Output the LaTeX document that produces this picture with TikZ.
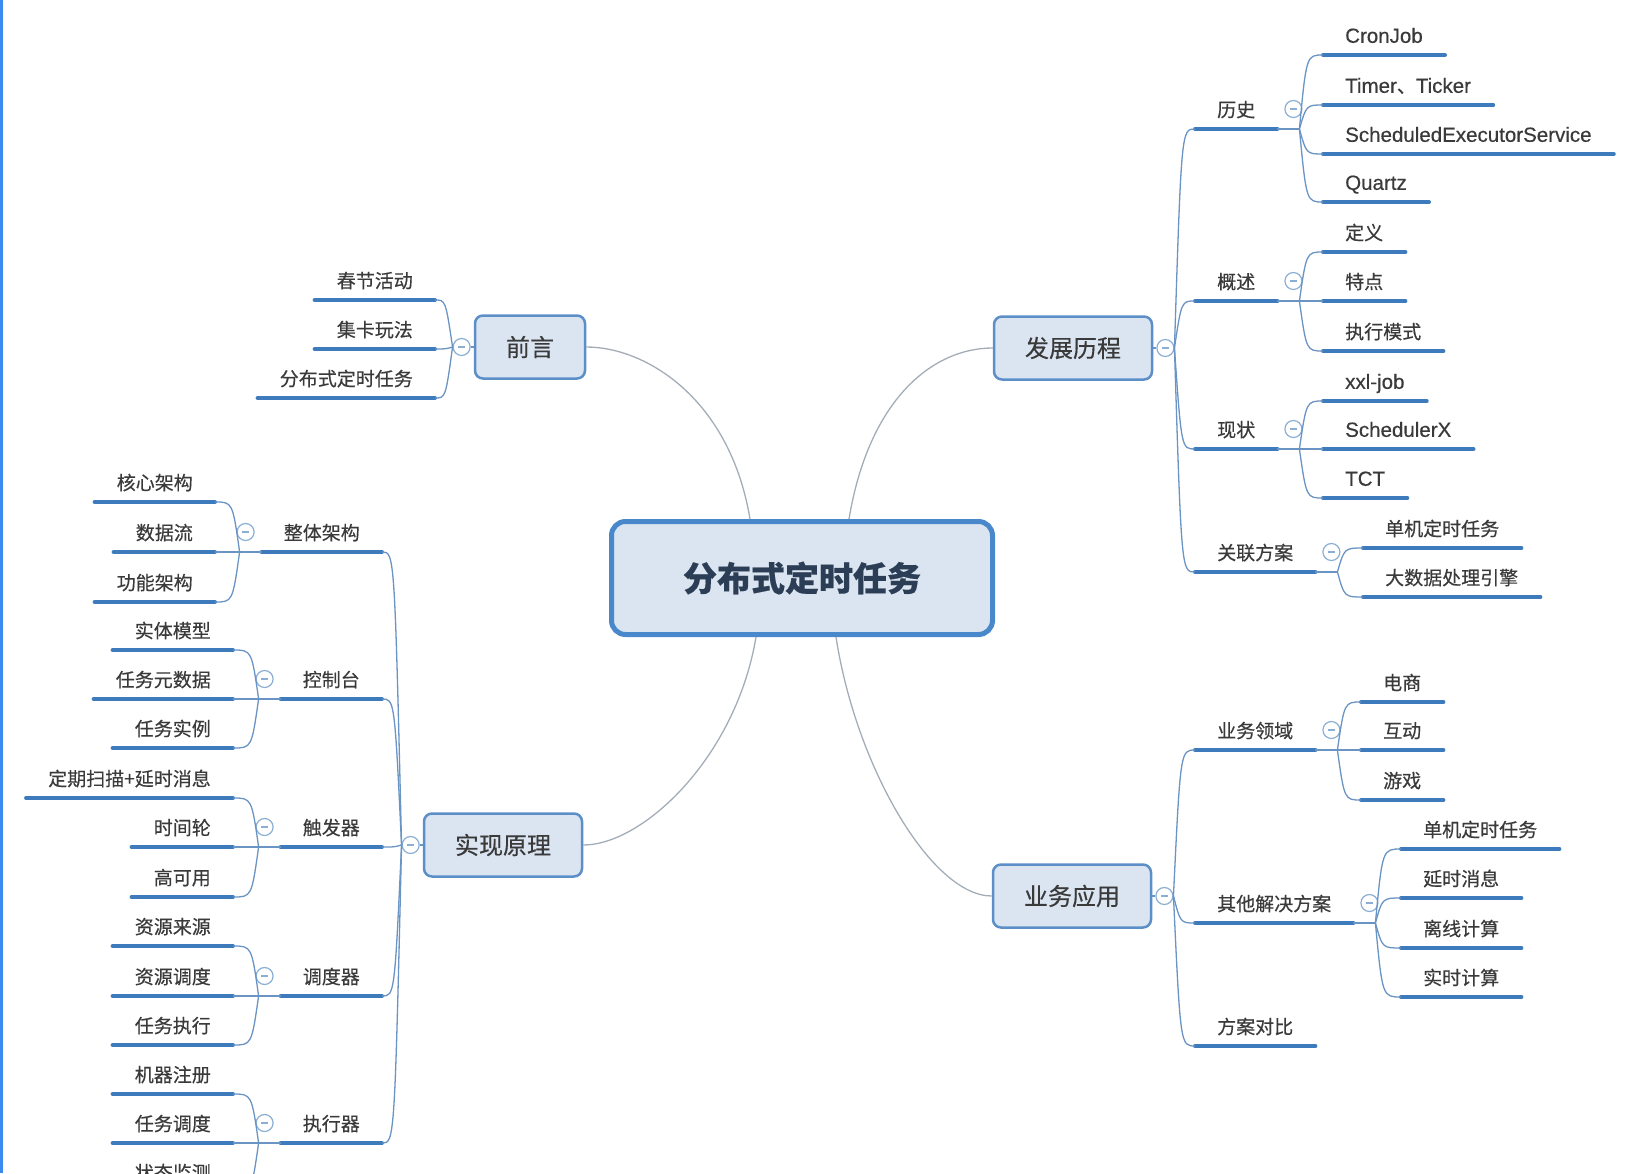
\documentclass[tikz,border=0pt]{standalone}
\usepackage{fontspec}
\setmainfont{Noto Sans CJK SC}[FakeBold=0.4]
\newfontfamily\latin{Liberation Sans}[Scale=1.08, FakeBold=0.4]
\usepackage{tikz}
\usetikzlibrary{positioning,calc}

\definecolor{txt}{HTML}{3A3A3A}
\definecolor{roottxt}{HTML}{2C3E55}
\definecolor{boxfill}{HTML}{DBE5F1}
\definecolor{boxline}{HTML}{5C8FC8}
\definecolor{rootline}{HTML}{4A88CC}
\definecolor{ulc}{HTML}{3E7BBD}
\definecolor{linkc}{HTML}{6A94C3}
\definecolor{trunkc}{HTML}{A3ADB8}
\definecolor{foldc}{HTML}{8AAED4}
\definecolor{edgebar}{HTML}{3B8AF0}

\begin{document}
\begin{tikzpicture}[
    x=1pt, y=-1pt,
    root/.style={draw=rootline, fill=boxfill, line width=5pt, rounded corners=14pt, minimum width=381pt, minimum height=113pt, text=roottxt, font=\fontsize{34pt}{34pt}\selectfont\bfseries},
    topic/.style={draw=boxline, fill=boxfill, line width=2.5pt, rounded corners=8pt, inner xsep=31pt, minimum height=63pt, text=txt, font=\fontsize{24pt}{24pt}\selectfont},
    leaf/.style={inner xsep=22pt, inner ysep=8pt, text height=15pt, text depth=4pt, text=txt, font=\fontsize{19pt}{19pt}\selectfont,
        append after command={(\tikzlastnode.south west) edge[uline] (\tikzlastnode.south east)}},
    fold/.style={circle, draw=foldc, line width=1.2pt, fill=white, minimum size=17pt, inner sep=0pt,
        path picture={\draw[foldc, line width=1.2pt] ([xshift=-3.5pt]path picture bounding box.center) -- ([xshift=3.5pt]path picture bounding box.center);}},
    uline/.style={draw=ulc, line width=4pt, line cap=round},
    link/.style={draw=linkc, line width=1.3pt},
    trunk/.style={draw=trunkc, line width=1.3pt},
    brR/.style={to path={.. controls ($(\tikztostart |- \tikztotarget)+(7,0)$) .. (\tikztotarget)}},
    brL/.style={to path={.. controls ($(\tikztostart |- \tikztotarget)+(-7,0)$) .. (\tikztotarget)}},
]
\useasboundingbox (0,0) rectangle (1628,1173);
\fill[edgebar] (0,0) rectangle (3,1173);

% Root
\node[root] (root) at (802,578) {分布式定时任务};

% 前言
\node[topic] (qianyan) at (530,347) {前言};
\node[fold, left=3pt of qianyan] (qyfold) {};
\node[leaf, anchor=south east] (chunjie) at (435,300) {春节活动};
\node[leaf, anchor=south east] (jika) at (435,349) {集卡玩法};
\node[leaf, anchor=south east] (fbsrw) at (435,398) {分布式定时任务};
\draw[link] (qianyan) -- (qyfold);
\draw[link] (qyfold.west) edge[brL] (chunjie.south east) edge[brL] (jika.south east) edge[brL] (fbsrw.south east);

% 发展历程
\node[topic] (fazhan) at (1073,348) {发展历程};
\node[fold, right=3pt of fazhan] (fzfold) {};
\node[leaf, anchor=south west] (lishi) at (1195,129) {历史};
\node[leaf, anchor=south west] (gaishu) at (1195,301) {概述};
\node[leaf, anchor=south west] (xianzh) at (1195,449) {现状};
\node[leaf, anchor=south west] (guanl) at (1195,572) {关联方案};
\draw[link] (fazhan) -- (fzfold);
\draw[link] (fzfold.east) edge[brR] (lishi.south west) edge[brR] (gaishu.south west) edge[brR] (xianzh.south west) edge[brR] (guanl.south west);

\node[leaf, anchor=south west] (cronjob) at (1323,55) {\latin CronJob};
\node[leaf, anchor=south west] (timer) at (1323,105) {{\latin Timer}、{\latin Ticker}};
\node[leaf, anchor=south west] (sched) at (1323,154) {\latin ScheduledExecutorService};
\node[leaf, anchor=south west] (quartz) at (1323,202) {\latin Quartz};
\node[fold] (lsfold) at ($(lishi.south east)+(16,-20)$) {};
\coordinate (lsj) at ($(lishi.south east)+(22,0)$);
\draw[link] (lishi.south east) -- (lsj) edge[brR] (cronjob.south west) edge[brR] (timer.south west) edge[brR] (sched.south west) edge[brR] (quartz.south west);

\node[leaf, anchor=south west] (dingyi) at (1323,252) {定义};
\node[leaf, anchor=south west] (tedian) at (1323,301) {特点};
\node[leaf, anchor=south west] (zxms) at (1323,351) {执行模式};
\node[fold] (gsfold) at ($(gaishu.south east)+(16,-20)$) {};
\coordinate (gsj) at ($(gaishu.south east)+(22,0)$);
\draw[link] (gaishu.south east) -- (gsj) edge[brR] (dingyi.south west) edge[brR] (tedian.south west) edge[brR] (zxms.south west);

\node[leaf, anchor=south west] (xxljob) at (1323,401) {\latin xxl-job};
\node[leaf, anchor=south west] (schedx) at (1323,449) {\latin SchedulerX};
\node[leaf, anchor=south west] (tct) at (1323,498) {\latin TCT};
\node[fold] (xzfold) at ($(xianzh.south east)+(16,-20)$) {};
\coordinate (xzj) at ($(xianzh.south east)+(22,0)$);
\draw[link] (xianzh.south east) -- (xzj) edge[brR] (xxljob.south west) edge[brR] (schedx.south west) edge[brR] (tct.south west);

\node[leaf, anchor=south west] (danji) at (1363,548) {单机定时任务};
\node[leaf, anchor=south west] (dsj) at (1363,597) {大数据处理引擎};
\node[fold] (glfold) at ($(guanl.south east)+(16,-20)$) {};
\coordinate (glj) at ($(guanl.south east)+(22,0)$);
\draw[link] (guanl.south east) -- (glj) edge[brR] (danji.south west) edge[brR] (dsj.south west);

% 实现原理
\node[topic] (shixian) at (503,845) {实现原理};
\node[fold, left=3pt of shixian] (sxfold) {};
\node[leaf, anchor=south east] (ztjg) at (382,552) {整体架构};
\node[leaf, anchor=south east] (kzt) at (382,699) {控制台};
\node[leaf, anchor=south east] (cfq) at (382,847) {触发器};
\node[leaf, anchor=south east] (ddq) at (382,996) {调度器};
\node[leaf, anchor=south east] (zxq) at (382,1143) {执行器};
\draw[link] (shixian) -- (sxfold);
\draw[link] (sxfold.west) edge[brL] (ztjg.south east) edge[brL] (kzt.south east) edge[brL] (cfq.south east) edge[brL] (ddq.south east) edge[brL] (zxq.south east);

\node[leaf, anchor=south east] (hxjg) at (215,502) {核心架构};
\node[leaf, anchor=south east] (sjl) at (215,552) {数据流};
\node[leaf, anchor=south east] (gnjg) at (215,602) {功能架构};
\node[fold] (ztfold) at ($(ztjg.south west)+(-16,-20)$) {};
\coordinate (ztj) at ($(ztjg.south west)+(-22,0)$);
\draw[link] (ztjg.south west) -- (ztj) edge[brL] (hxjg.south east) edge[brL] (sjl.south east) edge[brL] (gnjg.south east);

\node[leaf, anchor=south east] (stmx) at (233,650) {实体模型};
\node[leaf, anchor=south east] (rwys) at (233,699) {任务元数据};
\node[leaf, anchor=south east] (rwsl) at (233,748) {任务实例};
\node[fold] (kzfold) at ($(kzt.south west)+(-16,-20)$) {};
\coordinate (kzj) at ($(kzt.south west)+(-22,0)$);
\draw[link] (kzt.south west) -- (kzj) edge[brL] (stmx.south east) edge[brL] (rwys.south east) edge[brL] (rwsl.south east);

\node[leaf, anchor=south east] (dqsm) at (233,798) {定期扫描+延时消息};
\node[leaf, anchor=south east] (sjlun) at (233,847) {时间轮};
\node[leaf, anchor=south east] (gky) at (233,897) {高可用};
\node[fold] (cffold) at ($(cfq.south west)+(-16,-20)$) {};
\coordinate (cfj) at ($(cfq.south west)+(-22,0)$);
\draw[link] (cfq.south west) -- (cfj) edge[brL] (dqsm.south east) edge[brL] (sjlun.south east) edge[brL] (gky.south east);

\node[leaf, anchor=south east] (zyly) at (233,946) {资源来源};
\node[leaf, anchor=south east] (zydd) at (233,996) {资源调度};
\node[leaf, anchor=south east] (rwzx) at (233,1045) {任务执行};
\node[fold] (ddfold) at ($(ddq.south west)+(-16,-20)$) {};
\coordinate (ddj) at ($(ddq.south west)+(-22,0)$);
\draw[link] (ddq.south west) -- (ddj) edge[brL] (zyly.south east) edge[brL] (zydd.south east) edge[brL] (rwzx.south east);

\node[leaf, anchor=south east] (jqzc) at (233,1094) {机器注册};
\node[leaf, anchor=south east] (rwdd) at (233,1143) {任务调度};
\node[leaf, anchor=south east] (ztjc) at (233,1192) {状态监测};
\node[fold] (zxfold) at ($(zxq.south west)+(-16,-20)$) {};
\coordinate (zxj) at ($(zxq.south west)+(-22,0)$);
\draw[link] (zxq.south west) -- (zxj) edge[brL] (jqzc.south east) edge[brL] (rwdd.south east) edge[brL] (ztjc.south east);

% 业务应用
\node[topic] (yewu) at (1072,896) {业务应用};
\node[fold, right=3pt of yewu] (ywfold) {};
\node[leaf, anchor=south west] (ywly) at (1195,750) {业务领域};
\node[leaf, anchor=south west] (qtfa) at (1195,923) {其他解决方案};
\node[leaf, anchor=south west] (fadb) at (1195,1046) {方案对比};
\draw[link] (yewu) -- (ywfold);
\draw[link] (ywfold.east) edge[brR] (ywly.south west) edge[brR] (qtfa.south west) edge[brR] (fadb.south west);

\node[leaf, anchor=south west] (dians) at (1361,702) {电商};
\node[leaf, anchor=south west] (hudong) at (1361,750) {互动};
\node[leaf, anchor=south west] (youxi) at (1361,800) {游戏};
\node[fold] (lyfold) at ($(ywly.south east)+(16,-20)$) {};
\coordinate (lyj) at ($(ywly.south east)+(22,0)$);
\draw[link] (ywly.south east) -- (lyj) edge[brR] (dians.south west) edge[brR] (hudong.south west) edge[brR] (youxi.south west);

\node[leaf, anchor=south west] (djrw) at (1401,849) {单机定时任务};
\node[leaf, anchor=south west] (ysxx) at (1401,898) {延时消息};
\node[leaf, anchor=south west] (lxjs) at (1401,948) {离线计算};
\node[leaf, anchor=south west] (ssjs) at (1401,997) {实时计算};
\node[fold] (qtfold) at ($(qtfa.south east)+(16,-20)$) {};
\coordinate (qtj) at ($(qtfa.south east)+(22,0)$);
\draw[link] (qtfa.south east) -- (qtj) edge[brR] (djrw.south west) edge[brR] (ysxx.south west) edge[brR] (lxjs.south west) edge[brR] (ssjs.south west);

% Root links
\draw[trunk] ([xshift=-52pt]root.north) .. controls +(-20,-120) and +(60,0) .. (qianyan.east);
\draw[trunk] ([xshift=47pt]root.north) .. controls +(20,-120) and +(-60,0) .. (fazhan.west);
\draw[trunk] ([xshift=-46pt]root.south) .. controls +(-20,120) and +(60,0) .. (shixian.east);
\draw[trunk] ([xshift=34pt]root.south) .. controls +(20,130) and +(-60,0) .. (yewu.west);

\end{tikzpicture}
\end{document}
